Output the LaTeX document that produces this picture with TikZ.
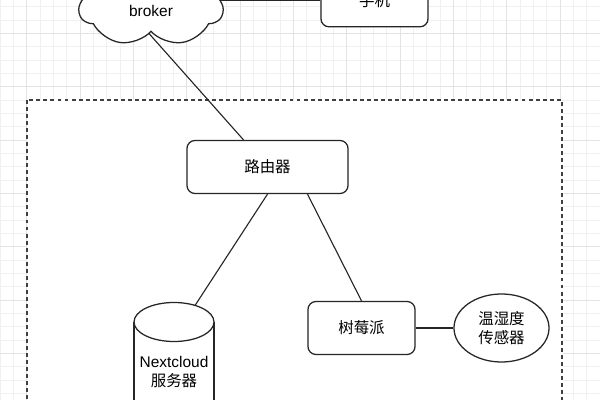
\documentclass[tikz,border=0pt]{standalone}
\usepackage{fontspec}
\setmainfont{Liberation Sans}
\newfontfamily\cjk{Noto Sans CJK SC}
\usetikzlibrary{shapes.geometric, shapes.symbols, calc}
\pgfdeclarelayer{bg}
\pgfdeclarelayer{edges}
\pgfsetlayers{bg,edges,main}

\begin{document}
\begin{tikzpicture}[x=0.025cm, y=-0.025cm,
  font=\fontsize{11}{13.5}\selectfont,
  gridminor/.style={draw=black!6, line width=0.5pt},
  gridmajor/.style={draw=black!11, line width=0.5pt},
  zone/.style={draw=black!75, line width=0.9pt, dash pattern=on 2.8pt off 2.2pt, fill=white},
  link/.style={draw=black!85, line width=0.8pt},
  box/.style={draw=black!85, line width=0.9pt, rounded corners=0.2cm, fill=white,
    minimum width=2.675cm, minimum height=1.325cm, inner sep=0pt, align=center},
  sensorshape/.style={ellipse, draw=black!85, line width=0.9pt, fill=white,
    minimum width=2.375cm, minimum height=1.7cm, inner sep=0pt, align=center},
  cloudshape/.style={cloud, cloud puffs=7, cloud puff arc=110, aspect=2.1, draw=black!85,
    line width=0.9pt, fill=white, minimum width=3.55cm, minimum height=1.75cm, inner sep=0pt}]
\useasboundingbox (0,0) rectangle (600,400);
\clip (0,0) rectangle (600,400);

% grid and the dashed area
\begin{pgfonlayer}{bg}
\fill[white] (0,0) rectangle (600,400);
\foreach \i in {0,...,45} \draw[gridminor] (\i*13.333,0) -- (\i*13.333,400);
\foreach \j in {0,...,30} \draw[gridminor] (0,6.667+\j*13.333) -- (600,6.667+\j*13.333);
\foreach \i in {0,...,11} \draw[gridmajor] (26.667+\i*53.333,0) -- (26.667+\i*53.333,400);
\foreach \j in {0,...,7} \draw[gridmajor] (0,33.333+\j*53.333) -- (600,33.333+\j*53.333);
\draw[zone] (27,100) rectangle (562,440);
\end{pgfonlayer}

% nodes
\node[cloudshape] (broker) at (151,11) {broker};
\node[box] (phone) at (374.5,0.3) {\cjk 手机};
\node[box, minimum width=4.025cm] (router) at (267.5,167) {\cjk 路由器};
\node[box] (pi) at (361.5,328) {\cjk 树莓派};
\node[sensorshape] (sensor) at (501.5,328) {\cjk 温湿度\\\cjk 传感器};

% server cylinder
\coordinate (dbc) at (174,322);
\fill[white] (134,322) rectangle (214,440);
\draw[link, line width=0.9pt] (134,322) -- (134,440) (214,322) -- (214,440);
\draw[link, line width=0.9pt, fill=white] (dbc) ellipse [x radius=40, y radius=19.5];
\coordinate (dbtop) at ($(dbc)+(21,-16.5)$);
\node[align=center] (server) at (174,372) {Nextcloud\\\cjk 服务器};

% connectors
\begin{pgfonlayer}{edges}
\draw[link] ($(broker.center)+(-14,9)$) -- ($(router.north)+(-24,0)$);
\draw[link] (phone.west) -- (phone.west -| broker.center);
\draw[link] (router.south) -- (dbtop);
\draw[link] ($(router.south)+(40,0)$) -- (pi.north);
\draw[link] (pi.east) -- (sensor.west);
\end{pgfonlayer}
\end{tikzpicture}
\end{document}
